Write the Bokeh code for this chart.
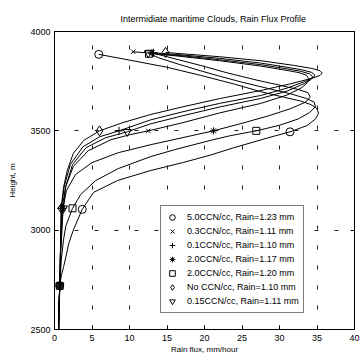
from bokeh.plotting import figure
from bokeh.models import Range1d, FixedTicker, LinearAxis, Legend, LegendItem
from bokeh.embed import file_html
from bokeh.resources import INLINE

# Rain flux profiles (mm/hour) against height (m)
# from the ground up through the flux maximum and back to the cloud top.
flux_5ccn = [0.55, 0.6, 0.7, 0.9, 1.2, 1.6, 1.9, 2.5, 3.7, 5.2, 8.4, 12.8, 17.2, 20.8, 23.9,
             28.4, 31.4, 33.7, 34.8, 35.2, 35.0, 34.2, 32.8, 30.5, 27.5, 24.0, 19.5, 15.0, 10.0, 5.9]
height_5ccn = [2500, 2620, 2720, 2770, 2813, 2880, 2933, 3000, 3105, 3190, 3250, 3300, 3341, 3378, 3415,
               3464, 3495, 3527, 3560, 3588, 3612, 3632, 3650, 3670, 3697, 3735, 3779, 3820, 3856, 3885]

flux_03ccn = [0.55, 0.6, 0.7, 0.8, 0.9, 1.0, 1.5, 2.5, 4.5, 7.5, 10.0, 12.5, 17.0, 22.0,
              27.5, 31.0, 33.0, 33.7, 33.9, 33.6, 32.6, 31.0, 27.5, 22.0, 17.0, 13.0, 10.5]
height_03ccn = [2500, 2620, 2720, 2900, 3000, 3110, 3220, 3320, 3400, 3455, 3480, 3500, 3540, 3590,
                3638, 3680, 3718, 3742, 3762, 3780, 3793, 3804, 3826, 3853, 3874, 3890, 3898]

flux_01ccn = [0.55, 0.6, 0.7, 0.8, 0.85, 0.9, 1.3, 2.1, 3.8, 6.0, 8.6, 12.8, 17.0,
              22.0, 27.5, 31.0, 33.5, 34.5, 34.7, 34.3, 33.0, 31.0, 27.5, 22.0, 17.0, 13.2]
height_01ccn = [2500, 2620, 2720, 2900, 3000, 3110, 3220, 3330, 3420, 3470, 3500, 3555, 3595,
                3638, 3678, 3715, 3750, 3768, 3781, 3794, 3807, 3820, 3841, 3865, 3882, 3893]

flux_2ccn_a = [0.55, 0.6, 0.75, 0.85, 1.0, 1.1, 1.6, 2.8, 5.0, 8.5, 12.8, 17.0, 21.2, 25.0,
               28.5, 31.5, 33.5, 34.1, 33.8, 32.5, 30.0, 27.0, 23.0, 19.5, 16.5, 14.5, 13.0]
height_2ccn_a = [2500, 2620, 2720, 2900, 3000, 3110, 3200, 3280, 3340, 3390, 3430, 3465, 3500, 3538,
                 3575, 3612, 3645, 3670, 3692, 3708, 3730, 3755, 3792, 3829, 3858, 3878, 3892]

flux_2ccn_b = [0.55, 0.6, 0.7, 0.9, 1.2, 1.5, 2.4, 3.5, 5.5, 8.5, 12.8, 16.0, 20.8, 23.5, 26.9,
               30.0, 32.5, 34.0, 34.8, 34.6, 33.5, 31.5, 28.5, 25.0, 22.0, 19.5, 16.5, 14.0, 12.6]
height_2ccn_b = [2500, 2620, 2720, 2850, 2950, 3020, 3110, 3180, 3250, 3310, 3370, 3405, 3452, 3476, 3500,
                 3528, 3560, 3592, 3622, 3645, 3664, 3686, 3713, 3745, 3775, 3802, 3836, 3866, 3888]

flux_noccn = [0.55, 0.6, 0.7, 0.8, 0.85, 0.9, 1.2, 1.7, 2.5, 3.9, 6.0, 9.0, 12.8, 17.0,
              22.0, 27.5, 31.5, 34.3, 35.4, 35.7, 35.4, 34.3, 32.0, 27.5, 22.0, 17.0, 14.8]
height_noccn = [2500, 2620, 2720, 2900, 3000, 3110, 3215, 3300, 3386, 3452, 3500, 3540, 3582, 3620,
                3662, 3703, 3737, 3764, 3779, 3791, 3803, 3814, 3829, 3853, 3873, 3888, 3895]

flux_015ccn = [0.55, 0.6, 0.7, 0.8, 0.9, 1.2, 1.5, 2.4, 4.2, 6.8, 9.7, 12.8, 17.0,
               22.0, 27.5, 31.0, 33.3, 34.2, 34.4, 34.0, 32.8, 30.5, 27.5, 22.0, 17.0, 12.5]
height_015ccn = [2500, 2620, 2720, 2900, 3000, 3110, 3220, 3330, 3415, 3465, 3495, 3535, 3575,
                 3620, 3663, 3700, 3738, 3758, 3773, 3787, 3800, 3815, 3833, 3858, 3878, 3891]

# Marked levels on each profile (flux, height)
mark_flux_5ccn, mark_height_5ccn = [0.7, 3.7, 31.4, 5.9], [2720, 3105, 3495, 3885]
mark_flux_03ccn, mark_height_03ccn = [0.7, 1.0, 12.5, 10.5], [2720, 3110, 3500, 3898]
mark_flux_01ccn, mark_height_01ccn = [0.7, 0.9, 8.6, 13.2], [2720, 3110, 3500, 3893]
mark_flux_2ccn_a, mark_height_2ccn_a = [0.75, 1.1, 21.2, 13.0], [2720, 3110, 3500, 3892]
mark_flux_2ccn_b, mark_height_2ccn_b = [0.7, 2.4, 26.9, 12.6], [2720, 3110, 3500, 3888]
mark_flux_noccn, mark_height_noccn = [0.7, 0.9, 6.0, 14.8], [2720, 3110, 3500, 3895]
mark_flux_015ccn, mark_height_015ccn = [0.7, 1.2, 9.7, 12.5], [2720, 3110, 3495, 3891]

labels = [
    "5.0CCN/cc, Rain=1.23 mm",
    "0.3CCN/cc, Rain=1.11 mm",
    "0.1CCN/cc, Rain=1.10 mm",
    "2.0CCN/cc, Rain=1.17 mm",
    "2.0CCN/cc, Rain=1.20 mm",
    "No CCN/cc, Rain=1.10 mm",
    "0.15CCN/cc, Rain=1.11 mm",
]
title_text = "Intermidiate maritime Clouds, Rain Flux Profile"
x_ticks = [0, 5, 10, 15, 20, 25, 30, 35, 40]
y_ticks = [2500, 3000, 3500, 4000]

series = [
    (flux_5ccn, height_5ccn, mark_flux_5ccn, mark_height_5ccn, "circle", 8),
    (flux_03ccn, height_03ccn, mark_flux_03ccn, mark_height_03ccn, "x", 6),
    (flux_01ccn, height_01ccn, mark_flux_01ccn, mark_height_01ccn, "cross", 8),
    (flux_2ccn_a, height_2ccn_a, mark_flux_2ccn_a, mark_height_2ccn_a, "asterisk", 7),
    (flux_2ccn_b, height_2ccn_b, mark_flux_2ccn_b, mark_height_2ccn_b, "square", 7),
    (flux_noccn, height_noccn, mark_flux_noccn, mark_height_noccn, "diamond", 10),
    (flux_015ccn, height_015ccn, mark_flux_015ccn, mark_height_015ccn, "inverted_triangle", 8),
]

FONT = "Liberation Sans"

p = figure(width=360, height=361, output_backend="svg", toolbar_location=None,
           x_range=Range1d(0, 40), y_range=Range1d(2500, 4000),
           min_border_left=54, min_border_right=6, min_border_top=31, min_border_bottom=32,
           background_fill_color="white", border_fill_color="white")

p.title.text = title_text
p.title.align = "left"
p.title.offset = 66
p.title.standoff = 16
p.title.text_font = FONT
p.title.text_font_size = "9px"
p.title.text_font_style = "normal"
p.title.text_color = "black"

p.outline_line_color = "black"
p.outline_line_width = 1
p.outline_line_alpha = 1

for ax, ticks in ((p.xaxis[0], x_ticks), (p.yaxis[0], y_ticks)):
    ax.ticker = FixedTicker(ticks=ticks)
    ax.major_tick_in = 4
    ax.major_tick_out = 0
    ax.minor_tick_in = 0
    ax.minor_tick_out = 0
    ax.axis_line_color = "black"
    ax.major_tick_line_color = "black"
    ax.major_label_text_font = FONT
    ax.major_label_text_font_size = "9px"
    ax.major_label_text_color = "black"
    ax.axis_label_text_font = FONT
    ax.axis_label_text_font_size = "8px"
    ax.axis_label_text_font_style = "normal"
    ax.axis_label_text_color = "black"

p.xaxis.axis_label = "Rain flux, mm/hour"
p.xaxis.major_label_standoff = 5
p.xaxis.axis_label_standoff = 1
p.yaxis.axis_label = "Height, m"
p.yaxis.major_label_standoff = 4
p.yaxis.axis_label_standoff = 10

# box ticks along the right edge, without labels
right_axis = LinearAxis(ticker=FixedTicker(ticks=y_ticks), major_tick_in=4, major_tick_out=0,
                        minor_tick_in=0, minor_tick_out=0, major_label_standoff=0,
                        major_label_text_font_size="1px", major_label_text_color=None,
                        axis_line_color="black", major_tick_line_color="black")
p.add_layout(right_axis, "right")

for grid in (p.xgrid[0], p.ygrid[0]):
    grid.grid_line_color = "#222222"
    grid.grid_line_dash = "4 16"
    grid.grid_line_width = 1

items = []
for (fx, hy, mfx, mhy, marker, size), label in zip(series, labels):
    p.line(fx, hy, line_color="black", line_width=1)
    r = p.scatter(mfx, mhy, marker=marker, size=size, line_color="black",
                  fill_color=None, line_width=1)
    items.append(LegendItem(label=label, renderers=[r]))

legend = Legend(items=items, location=(106, 16), orientation="vertical",
                border_line_color="black", border_line_width=1,
                background_fill_color="white", background_fill_alpha=1,
                label_text_font=FONT, label_text_font_size="9px", label_text_color="black",
                padding=4, spacing=0, margin=0, glyph_width=14, glyph_height=14,
                label_height=14, label_standoff=8)
p.add_layout(legend)

open("out.html", "w").write(file_html(p, INLINE))
